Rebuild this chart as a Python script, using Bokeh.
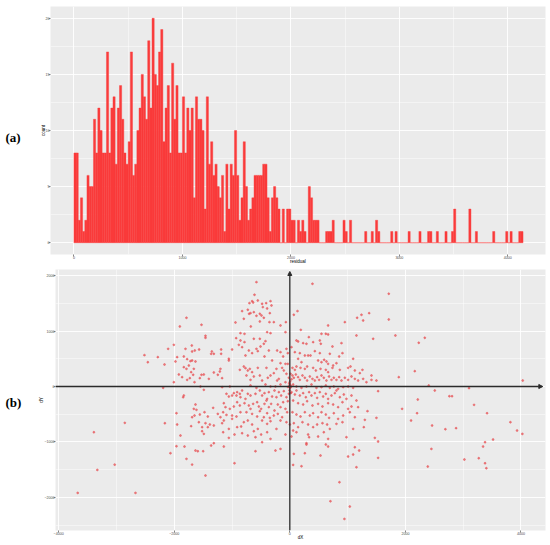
from bokeh.plotting import figure
from bokeh.layouts import column, row
from bokeh.models import Arrow, NormalHead, FixedTicker, Range1d
from bokeh.core.properties import value
from bokeh.embed import file_html
from bokeh.resources import INLINE

# ---------------- data: histogram of residuals (bin width 20) ----------------
BIN_WIDTH = 20
counts = [
    8, 8, 2, 4, 1, 2, 6, 5, 5, 11, 8, 12, 10, 8, 8, 17, 8, 12, 13, 7,
    12, 14, 11, 8, 7, 9, 17, 6, 7, 10, 12, 15, 13, 11, 18,
    12, 20, 15, 14, 17, 19, 9, 12, 14, 8, 16, 11, 14, 8, 8, 13, 8, 12, 10, 12,
    4, 13, 11, 11, 10, 3, 13, 7, 9, 6, 7, 5, 4, 6, 1, 7,
    3, 7, 6, 10, 6, 2, 4, 9, 5, 2, 3, 4, 6, 6, 6, 6, 7, 7, 4, 1, 4, 5, 4, 3,
    0, 3, 0, 3, 3, 2, 2, 0, 2, 1, 2, 1, 0, 5, 4, 2, 2, 2, 0, 0, 0, 1, 1, 1, 2,
    0, 0, 0, 0, 2, 1, 0, 2,
    0, 0, 0, 0, 0, 0, 1, 0, 0, 1, 0, 2, 1, 0, 0, 0, 0, 0, 1, 0, 1,
    0, 0, 0, 0, 0, 1, 0, 0, 0, 0, 1, 0, 0, 0, 1, 1, 0, 0, 1, 0, 0, 0, 1,
    0, 0, 1, 3, 0, 0, 0, 0, 0, 0, 3, 0, 0, 1, 0, 0, 0, 0, 0, 0, 0, 1,
    0, 0, 0, 0, 0, 1, 0, 1, 0, 0, 0, 1, 1,
]
hist_x_ticks = [0, 1000, 2000, 3000, 4000]
hist_x_minor = [500, 1500, 2500, 3500]
hist_y_ticks = [0, 5, 10, 15, 20]
hist_y_minor = [2.5, 7.5, 12.5, 17.5]

# ---------------- data: scatter of dX / dY ----------------
far_left_x = [-3670, -3390, -3330, -3030, -2855, -2670, -2515, -2457, -2284, -2191, -2168, -2162, -2105, -2065]
far_left_y = [-1920, -825, -1505, -1410, -656, -1920, 566, 439, 530, -24, 397, -662, 680, -1204]

west_x = [
    -577, -611, -652, -698, -634, -554, -479, -409, -334, -317,
    -825, -727, -680, -704, -623, -519, -467, -392, -346, -577,
    -490, -1788, -1903, -1528, -940, -796, -675, -519, -450, -352,
    -277, -161, -69, -2007, -1805, -1696, -1690, -1644, -1569, -1459,
    -1459, -928, -854, -784, -854, -882, -825, -784, -623, -519,
    -507, -450, -392, -334, -421, -75, -1949, -1978, -1834, -1776,
    -1747, -1719, -1690, -1632, -1661, -1788, -1834, -1349, -1315, -1361,
    -1188, -1188, -1055, -1055, -998, -767, -709, -652, -577, -554,
    -438, -363, -306, -219, -161, -115, -58, -35, -1920, -1863,
    -1776, -1730, -1707, -1672, -1557, -1528, -1488, -1401, -1315, -1246,
    -1211, -1200, -1171, -865, -796, -767, -727, -692, -652, -623,
    -680, -750, -554, -519, -479, -404, -381, -334, -277, -231,
    -219, -190, -161, -133, -104, -75, -58, -35, -17, -2007,
    -1649, -1546, -1171, -1038, -680, -577, -421, -334, -248, -161,
    -75, -17, -1834, -1845, -1488, -1096, -1055, -998, -969, -923,
    -911, -865, -854, -825, -767, -727, -680, -594, -519, -479,
    -438, -392, -363, -306, -265, -231, -190, -150, -104, -58,
    -17, -1632, -1615, -1661, -1326, -1142, -1113, -969, -911, -865,
    -784, -709, -680, -634, -565, -536, -496, -438, -404, -363,
    -323, -265, -208, -161, -115, -75, -35, -1961, -1690, -1649,
    -1557, -1476, -1419, -1246, -1200, -1153, -1096, -1038, -998, -923,
    -854, -750, -652, -565, -519, -450, -392, -346, -277, -208,
    -133, -46, -1949, -1707, -1574, -1517, -1459, -1419, -1384, -1315,
    -1171, -1142, -998, -1055, -911, -842, -796, -727, -652, -554,
    -479, -392, -334, -231, -161, -58, -1517, -1488, -1892, -1153,
    -1055, -957, -825, -727, -623, -594, -496, -392, -334, -75,
    -1961, -1822, -1632, -1592, -1499, -1361, -1315, -1142, -594, -479,
    -248, -161, -1788, -1690, -957, -1459,
]
west_y = [
    1884, 1656, 1541, 1505, 1517, 1553, 1493, 1505, 1541, 1463,
    1361, 1385, 1324, 1312, 1342, 1312, 1433, 1409, 1324, 1276,
    1282, 1240, 1084, 1114, 1156, 1222, 1084, 1174, 1240, 1162,
    1162, 1102, 1162, 752, 680, 740, 632, 650, 668, 915,
    879, 873, 963, 951, 831, 752, 710, 801, 861, 861,
    722, 771, 981, 963, 819, 981, 530, 452, 542, 494,
    379, 458, 470, 452, 319, 319, 349, 632, 590, 590,
    668, 590, 500, 470, 668, 560, 650, 602, 680, 638,
    542, 650, 470, 650, 620, 542, 680, 602, 217, 169,
    120, 151, 259, 211, 151, 211, 217, 138, 253, 211,
    271, 319, 151, 301, 361, 331, 289, 319, 259, 181,
    120, 199, 337, 199, 108, 337, 157, 199, 241, 319,
    108, 138, 421, 337, 289, 409, 229, 409, 157, 78,
    78, 0, -12, 0, 18, -24, 36, 0, 0, 36,
    78, 0, -163, -193, -60, -132, -181, -163, -120, -163,
    -102, -132, -193, -72, -223, -132, -163, -132, -72, -163,
    -120, -223, -102, -181, -72, -193, -102, -163, -84, -193,
    -132, -325, -421, -403, -385, -301, -373, -361, -283, -343,
    -301, -343, -403, -313, -283, -361, -403, -313, -253, -373,
    -313, -433, -325, -373, -283, -403, -265, -482, -554, -524,
    -506, -464, -542, -494, -554, -464, -512, -403, -524, -542,
    -464, -464, -494, -542, -445, -554, -482, -566, -524, -494,
    -554, -464, -686, -716, -644, -734, -662, -734, -686, -704,
    -662, -614, -584, -765, -734, -722, -644, -614, -686, -765,
    -614, -674, -626, -765, -614, -644, -807, -855, -885, -825,
    -927, -867, -843, -885, -807, -915, -867, -825, -945, -867,
    -1078, -1084, -1156, -1168, -1168, -1066, -1023, -1084, -1168, -1005,
    -1156, -1126, -1306, -1409, -1385, -1607,
]

east_x = [
    392, 69, 133, 663, 952, 1165, 1240, 1269, 1373, 1442,
    1153, 190, 329, 548, 623, 663, 115, 144, 231, 288,
    404, 519, 536, 894, 738, 29, 87, 173, 260, 317,
    358, 433, 519, 692, 911, 854, 1096, 144, 202, 490,
    548, 594, 634, 663, 750, 807, 46, 87, 115, 185,
    260, 300, 404, 450, 531, 623, 663, 738, 865, 1009,
    1050, 1125, 1211, 1257, 1413, 1499, 12, 46, 69, 104,
    144, 173, 219, 260, 300, 346, 392, 433, 473, 507,
    548, 588, 634, 680, 721, 761, 807, 854, 894, 952,
    1009, 1067, 1125, 1182, 1269, 1326, 1413, 0, 12, 58,
    115, 202, 288, 375, 461, 548, 623, 692, 761, 836,
    923, 1009, 1096, 1528, 29, 87, 115, 173, 231, 277,
    334, 375, 433, 473, 519, 577, 623, 663, 721, 779,
    807, 865, 934, 980, 1067, 1153, 58, 144, 231, 300,
    392, 490, 565, 663, 750, 836, 911, 1009, 1067, 1182,
    1344, 46, 115, 185, 260, 346, 404, 490, 548, 623,
    680, 761, 836, 923, 1038, 1125, 1298, 1499, 0, 69,
    144, 219, 317, 404, 473, 565, 646, 692, 807, 911,
    1096, 1280, 58, 115, 317, 334, 490, 588, 663, 980,
    1471, 1528, 29, 288, 288, 623, 663, 1125, 69, 260,
    531, 1009, 1096, 1200, 1528, 58, 202, 1153,
]
east_y = [
    1854, 1294, 1361, 1102, 1162, 1240, 1294, 1192, 1324, 861,
    921, 1023, 891, 951, 951, 939, 831, 813, 783, 771,
    801, 831, 771, 783, 722, 710, 620, 602, 560, 560,
    560, 638, 602, 590, 602, 542, 500, 500, 439, 470,
    439, 482, 452, 409, 379, 421, 337, 301, 361, 337,
    319, 361, 337, 289, 319, 301, 259, 337, 301, 337,
    361, 289, 241, 301, 199, 108, 229, 199, 157, 217,
    169, 120, 199, 157, 108, 181, 138, 108, 169, 120,
    199, 157, 108, 181, 120, 157, 120, 169, 108, 157,
    120, 181, 138, 108, 138, 78, 120, 18, -12, 36,
    0, -24, 0, 36, -24, -12, 18, -24, 0, -42,
    -12, 0, -24, -84, -102, -144, -72, -163, -120, -193,
    -102, -163, -120, -205, -102, -181, -132, -223, -163, -120,
    -72, -193, -144, -223, -163, -253, -253, -301, -325, -265,
    -343, -313, -361, -301, -325, -373, -283, -403, -361, -373,
    -445, -464, -506, -542, -464, -524, -482, -554, -464, -506,
    -566, -482, -584, -524, -464, -554, -602, -566, -686, -662,
    -734, -644, -686, -734, -686, -662, -686, -765, -674, -644,
    -765, -734, -795, -825, -867, -915, -903, -825, -945, -915,
    -927, -993, -903, -1023, -1047, -1047, -1084, -1096, -1216, -1204,
    -1246, -1264, -1228, -1156, -1288, -1415, -1439, -1457,
]

far_right_x = [1712, 1712, 1827, 1885, 1943, 2098, 2162, 2202, 2214, 2231,
               2335, 2387, 2404, 2450, 2462, 2508, 2692, 2761, 2807, 2877,
               3021, 3101, 3188, 3269, 3344, 3378, 3378, 3401, 3413, 3517,
               3817, 3932, 4024, 4030, 859, 703, 1038, 945]
far_right_y = [1674, 1210, 921, 169, -403, -614, 277, -482, -235, 789,
               879, -1445, 18, -1126, -704, -72, -771, -175, -175, -752,
               -1318, -30, -331, -1294, -1084, -1005, -1385, -1475, -482, -957,
               -644, -795, -855, 108, -1728, -2071, -2167, -2390]

origin_x = [0, 10, -10, 20, -30, 5, -5, 30, 15]
origin_y = [40, -20, 60, 10, -10, 90, -70, 130, -120]

sc_x_ticks = [-4000, -2000, 0, 2000, 4000]
sc_x_minor = [-3000, -1000, 1000, 3000]
sc_y_ticks = [-2000, -1000, 0, 1000, 2000]
sc_y_minor = [-2500, -1500, -500, 500, 1500]

panel_tags = ["(a)", "(b)"]

# ---------------- styling helpers ----------------
PANEL = "#EBEBEB"
FONT = "Liberation Sans"
TAG_W = 30


def ggplot_style(p, xt, xm, yt, ym):
    p.background_fill_color = PANEL
    p.border_fill_color = "white"
    p.outline_line_color = None
    xtk = FixedTicker(ticks=xt, minor_ticks=xm)
    ytk = FixedTicker(ticks=yt, minor_ticks=ym)
    p.xaxis.ticker = xtk
    p.yaxis.ticker = ytk
    p.xgrid.ticker = xtk
    p.ygrid.ticker = ytk
    for g in (p.xgrid, p.ygrid):
        g.grid_line_color = "white"
        g.grid_line_width = 0.9
        g.minor_grid_line_color = "white"
        g.minor_grid_line_width = 0.45
    for ax in (p.xaxis, p.yaxis):
        ax.axis_line_color = None
        ax.major_tick_line_color = "#333333"
        ax.major_tick_line_width = 0.6
        ax.major_tick_out = 2
        ax.major_tick_in = 0
        ax.minor_tick_out = 0
        ax.minor_tick_in = 0
        ax.major_label_text_font = FONT
        ax.major_label_text_font_size = "3.6px"
        ax.major_label_text_color = "#4D4D4D"
        ax.major_label_standoff = -1
        ax.axis_label_text_font = FONT
        ax.axis_label_text_font_size = "4.5px"
        ax.axis_label_text_font_style = "normal"
        ax.axis_label_text_color = "black"
        ax.axis_label_standoff = -3


def tag_figure(text, height, y_from_top):
    s = figure(width=TAG_W, height=height, output_backend="svg", toolbar_location=None,
               x_range=Range1d(0, TAG_W), y_range=Range1d(0, height),
               x_axis_type=None, y_axis_type=None,
               min_border_left=0, min_border_right=0, min_border_top=0, min_border_bottom=0)
    s.outline_line_color = None
    s.background_fill_color = "white"
    s.border_fill_color = "white"
    s.text(x=[5], y=[height - y_from_top], text=[text],
           text_font=value("Liberation Serif"), text_font_style="bold",
           text_font_size="13px", text_baseline="middle", text_align="left",
           text_color="black")
    return s


# ---------------- (a) histogram ----------------
H1 = 266
p1 = figure(width=550 - TAG_W, height=H1, output_backend="svg", toolbar_location=None,
            x_range=Range1d(-216, 4347), y_range=Range1d(-1.05, 21.05),
            min_border_left=50 - TAG_W, min_border_right=5, min_border_top=6, min_border_bottom=11)
left = [i * BIN_WIDTH for i in range(len(counts))]
right = [(i + 1) * BIN_WIDTH for i in range(len(counts))]
bottom = [0] * len(counts)
p1.quad(left=left, right=right, bottom=bottom, top=counts,
        fill_color="#FA3B3B", line_color="#FA3B3B", line_width=0.4)
ggplot_style(p1, hist_x_ticks, hist_x_minor, hist_y_ticks, hist_y_minor)
p1.xaxis.axis_label = "residual"
p1.yaxis.axis_label = "count"
tag1 = tag_figure(panel_tags[0], H1, 140)

# ---------------- (b) scatter ----------------
H2 = 279
X_LO, X_HI = -4054, 4424
Y_LO, Y_HI = -2599, 2112
p2 = figure(width=550 - TAG_W, height=H2, output_backend="svg", toolbar_location=None,
            x_range=Range1d(X_LO, X_HI), y_range=Range1d(Y_LO, Y_HI),
            min_border_left=55 - TAG_W, min_border_right=5, min_border_top=3, min_border_bottom=15)
ggplot_style(p2, sc_x_ticks, sc_x_minor, sc_y_ticks, sc_y_minor)

xs = far_left_x + west_x + east_x + far_right_x + origin_x
ys = far_left_y + west_y + east_y + far_right_y + origin_y
n = min(len(xs), len(ys))
xs, ys = xs[:n], ys[:n]

AX_COL = "#2B2B2B"
p2.add_layout(Arrow(end=NormalHead(size=4, fill_color=AX_COL, line_color=AX_COL),
                    x_start=X_LO, y_start=0, x_end=4377, y_end=0,
                    line_color=AX_COL, line_width=1.3))
p2.add_layout(Arrow(end=NormalHead(size=4, fill_color=AX_COL, line_color=AX_COL),
                    x_start=0, y_start=Y_LO, x_end=0, y_end=2076,
                    line_color=AX_COL, line_width=1.3))
p2.scatter(xs, ys, size=1.9, fill_color="#E8474C", line_color="#E8474C",
           fill_alpha=0.65, line_alpha=0.5)
p2.xaxis.axis_label = "dX"
p2.yaxis.axis_label = "dY"
tag2 = tag_figure(panel_tags[1], H2, 142)

layout = column(row(tag1, p1, spacing=0), row(tag2, p2, spacing=0), spacing=0)
open("out.html", "w").write(file_html(layout, INLINE))
